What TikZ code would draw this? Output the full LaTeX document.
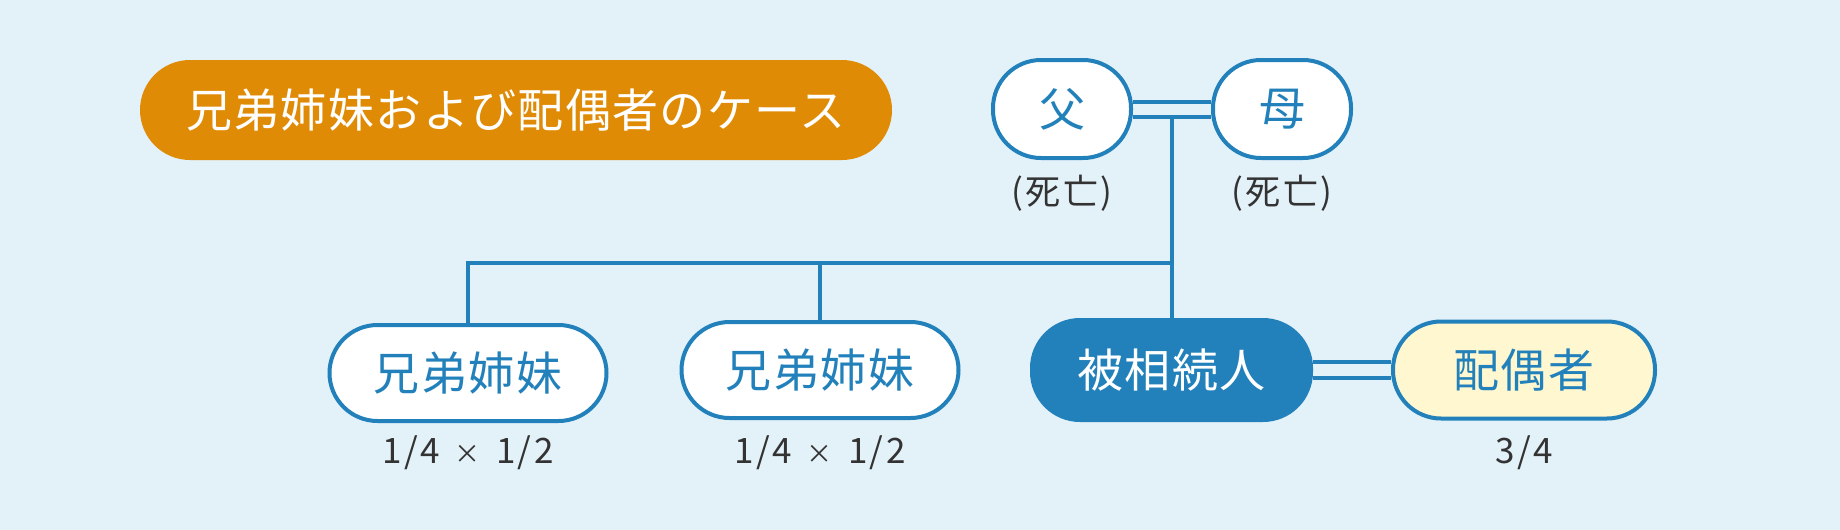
\documentclass[tikz,border=0pt]{standalone}
\usepackage{fontspec}
\setmainfont{Noto Sans CJK JP}
\newfontfamily\notefont{Noto Sans CJK JP}[LetterSpace=7]
\newfontfamily\boxfont{Noto Sans CJK JP}[LetterSpace=3]
\newcommand\smtimes{\hspace{14pt}{\fontsize{26}{30}\selectfont ×}\hspace{16pt}}
\definecolor{bgc}{HTML}{E3F1F9}
\definecolor{bluec}{HTML}{2281BB}
\definecolor{orangec}{HTML}{E08B06}
\definecolor{yellowc}{HTML}{FFF7D0}
\definecolor{textc}{HTML}{333333}
\tikzset{
  pbox/.style={draw=bluec, line width=4pt, fill=white, text=bluec, rounded corners=48pt, inner sep=0pt, font=\boxfont\fontsize{46}{54}\selectfont},
  heirbox/.style={pbox, fill=bluec, text=white},
  spbox/.style={pbox, fill=yellowc},
  titlebox/.style={fill=orangec, text=white, rounded corners=50pt, inner sep=0pt, font=\boxfont\fontsize{46}{54}\selectfont},
  note/.style={text=textc, inner sep=0pt, font=\notefont\fontsize{35}{42}\selectfont},
  conn/.style={draw=bluec, line width=4pt}
}
\begin{document}
\begin{tikzpicture}[x=1pt,y=-1pt]
\fill[bgc] (0,0) rectangle (1840,530);
\useasboundingbox (0,0) rectangle (1840,530);
% title
\node[titlebox, minimum width=752pt, minimum height=100pt] (title) at (516,110) {兄弟姉妹および配偶者のケース};
% parents
\node[pbox, minimum width=138pt, minimum height=98pt] (father) at (1062,109) {父};
\node[pbox, minimum width=138pt, minimum height=98pt] (mother) at (1282,109) {母};
\node[note] (fnote) at (1062,193) {(死亡)};
\node[note] (mnote) at (1282,193) {(死亡)};
% children
\node[pbox, minimum width=277pt, minimum height=96pt] (sib1) at (468,373) {兄弟姉妹};
\node[pbox, minimum width=277pt, minimum height=96pt] (sib2) at (820,370) {兄弟姉妹};
\node[heirbox, minimum width=279pt, minimum height=100pt] (heir) at (1171.5,370) {被相続人};
\node[spbox, minimum width=262pt, minimum height=97pt] (spouse) at (1524,370) {配偶者};
\node[note] (n1) at (468,453) {1/4\smtimes 1/2};
\node[note] (n2) at (820,453) {1/4\smtimes 1/2};
\node[note] (n3) at (1524,453) {3/4};
% connectors
\draw[conn] ([yshift=7.5pt]father.east) -- ([yshift=7.5pt]mother.west);
\draw[conn] ([yshift=-7.5pt]father.east) -- ([yshift=-7.5pt]mother.west);
\coordinate (pm) at (1171.5,117);
\coordinate (br) at (1171.5,263);
\draw[conn] (pm) -- (heir.north);
\draw[conn] (br) -| (sib1.north);
\draw[conn] (sib2.north |- br) -- (sib2.north);
\draw[conn] ([yshift=8pt]heir.east) -- ([yshift=8pt]spouse.west);
\draw[conn] ([yshift=-8pt]heir.east) -- ([yshift=-8pt]spouse.west);
\end{tikzpicture}
\end{document}
